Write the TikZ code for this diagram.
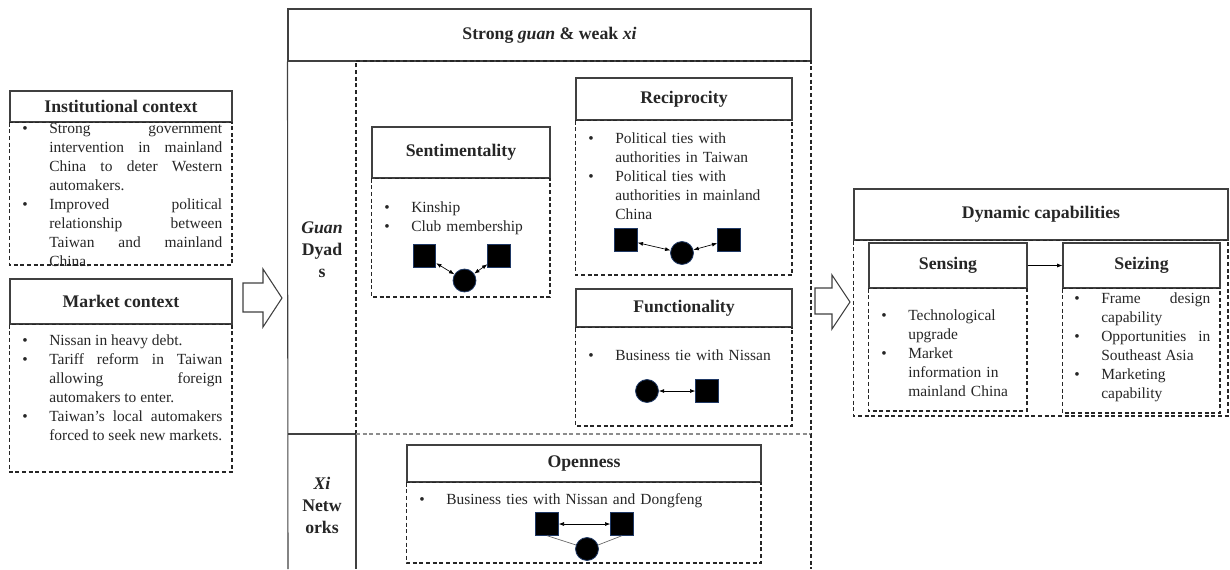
\documentclass[tikz,border=0pt]{standalone}
\usepackage{fontspec}
\setmainfont{Liberation Serif}
\usepackage{xcolor}
\usetikzlibrary{arrows.meta, positioning}

\definecolor{inkgray}{HTML}{262626}
\definecolor{rulegray}{HTML}{404040}
\definecolor{edgeblue}{HTML}{1F3864}

\newcommand{\bodysize}{\fontsize{11.6pt}{14.25pt}\selectfont}
\newcommand{\headsize}{\fontsize{13.3pt}{16.5pt}\selectfont\bfseries}
\newcommand{\bitem}{\par\noindent\hangindent=20.25pt\hangafter=1\strut\makebox[20.25pt][l]{\textbullet}}

\tikzset{
    headbox/.style={draw=rulegray, line width=0.8pt, inner sep=0pt, font=\headsize, text=inkgray},
    box size/.style 2 args={minimum width=#1*0.75pt, minimum height=#2*0.75pt},
    dashbox/.style={draw=black!85, line width=0.8pt, dash pattern=on 3pt off 2pt},
    listtext/.style={anchor=north west, inner sep=0pt, font=\bodysize, text=inkgray},
    sidelab/.style={align=center, font=\headsize, text=inkgray, inner sep=0pt},
    actor/.style={draw=edgeblue, fill=black, line width=0.6pt, minimum size=16.9pt, inner sep=0pt},
    focal/.style={circle, draw=edgeblue, fill=black, line width=0.6pt, minimum size=17.2pt, inner sep=0pt},
    tie/.style={{Latex[length=4pt,width=3pt]}-{Latex[length=4pt,width=3pt]}, line width=0.5pt, black},
    bigarrow/.style={draw=rulegray, line width=0.8pt, fill=white}
}

\begin{document}
\begin{tikzpicture}[x=0.75pt, y=-0.75pt]

    \useasboundingbox (0,0) rectangle (1230,569);

    % context side
    \node[headbox, box size={222}{31}] (inst) at (121,106.5) {Institutional context};
    \draw[dashbox] (inst.south west) rectangle (232,265);
    \node[listtext, text width=150pt, align=justify] (instlist) at (22,114) {%
        \bitem Strong government\linebreak intervention in mainland\linebreak China to deter Western\linebreak automakers.
        \bitem Improved political\linebreak relationship between\linebreak Taiwan and mainland\linebreak China.\par};

    \node[headbox, box size={222}{45}] (market) at (121,301.5) {Market context};
    \draw[dashbox] (market.south west) rectangle (232,472);
    \node[listtext, text width=150pt, align=justify] (marketlist) at (22,326) {%
        \bitem Nissan in heavy debt.
        \bitem Tariff reform in Taiwan\linebreak allowing foreign\linebreak automakers to enter.
        \bitem Taiwan's local automakers\linebreak forced to seek new markets.\par};

    \draw[bigarrow] (243,283) -- (263,283) -- (263,269) -- (282,298) -- (263,327) -- (263,312) -- (243,312) -- cycle;

    % guan and xi
    \node[headbox, box size={523}{52}] (strong) at (549.5,35) {Strong \textit{guan} \& weak \textit{xi}};
    \draw[rulegray, line width=0.8pt] (strong.south west) -- (288,569);
    \draw[rulegray, line width=0.8pt] (288,434) -- (356,434) -- (356,569);
    \draw[dashbox] (356,434) -- (356,61) -- (811,61) -- (811,434);
    \draw[dashbox, draw=black!45] (356,434) -- (811,434);
    \draw[dashbox] (811,434) -- (811,569);

    \node[sidelab] (guanlab) at (322,250) {\textit{Guan}\\Dyad\\s};
    \node[sidelab] (xilab) at (322,505) {\textit{Xi}\\Netw\\orks};

    \node[headbox, box size={178}{51}] (senti) at (461,152.5) {Sentimentality};
    \draw[dashbox] (senti.south west) rectangle (550,297);
    \node[listtext, text width=125pt, align=left] (sentilist) at (384,193) {%
        \bitem Kinship
        \bitem Club membership\par};
    \node[actor] (kinA) at (424.5,256) {};
    \node[actor] (kinB) at (499,256) {};
    \node[focal] (kinC) at (464.5,280.5) {};
    \draw[tie] (kinA) -- (kinC);
    \draw[tie] (kinC) -- (kinB);

    \node[headbox, box size={216}{42}] (recip) at (684,99) {Reciprocity};
    \draw[dashbox] (recip.south west) rectangle (792,275);
    \node[listtext, text width=135pt, align=left] (reciplist) at (588,124) {%
        \bitem Political ties with\newline authorities in Taiwan
        \bitem Political ties with\newline authorities in mainland\newline China\par};
    \node[actor] (polA) at (626,240) {};
    \node[actor] (polB) at (729,240) {};
    \node[focal] (polC) at (682,253) {};
    \draw[tie] (polA) -- (polC);
    \draw[tie] (polC) -- (polB);

    \node[headbox, box size={216}{38}] (func) at (684,308) {Functionality};
    \draw[dashbox] (func.south west) rectangle (792,426);
    \node[listtext, text width=150pt, align=left] (funclist) at (588,341) {%
        \bitem Business tie with Nissan\par};
    \node[focal] (bizC) at (647,391) {};
    \node[actor] (bizA) at (707,391) {};
    \draw[tie] (bizC) -- (bizA);

    \node[headbox, box size={354}{37}] (open) at (584,463.5) {Openness};
    \draw[dashbox] (open.south west) rectangle (761,563);
    \node[listtext, text width=250pt, align=left] (openlist) at (419,485) {%
        \bitem Business ties with Nissan and Dongfeng\par};
    \node[actor] (netA) at (547,524) {};
    \node[actor] (netB) at (622,524) {};
    \node[focal] (netC) at (587,549) {};
    \draw[tie] (netA) -- (netB);
    \draw[black!60, line width=0.5pt] (netA.south) -- (netC.160);
    \draw[black!60, line width=0.5pt] (netB.south) -- (netC.20);

    \draw[bigarrow] (815,288) -- (832,288) -- (832,275) -- (850,302) -- (832,329) -- (832,314) -- (815,314) -- cycle;

    % dynamic capabilities
    \node[headbox, box size={374}{51}] (dyncap) at (1041,214.5) {Dynamic capabilities};
    \draw[dashbox] (dyncap.south west) rectangle (1228,416);

    \node[headbox, box size={158}{45}] (sensing) at (948,265.5) {Sensing};
    \draw[dashbox] (sensing.south west) rectangle (1027,411);
    \node[listtext, text width=110pt, align=left] (senselist) at (881,301) {%
        \bitem Technological\newline upgrade
        \bitem Market\newline information in\newline mainland China\par};

    \node[headbox, box size={157}{45}] (seizing) at (1141.5,265.5) {Seizing};
    \draw[dashbox] (seizing.south west) rectangle (1220,413);
    \node[listtext, text width=102pt, align=justify] (seizelist) at (1074,284) {%
        \bitem Frame design\linebreak capability
        \bitem Opportunities in\linebreak Southeast Asia
        \bitem Marketing\newline capability\par};

    \draw[-{Latex[length=4pt,width=3pt]}, line width=0.5pt] (sensing) -- (seizing);
\end{tikzpicture}
\end{document}
